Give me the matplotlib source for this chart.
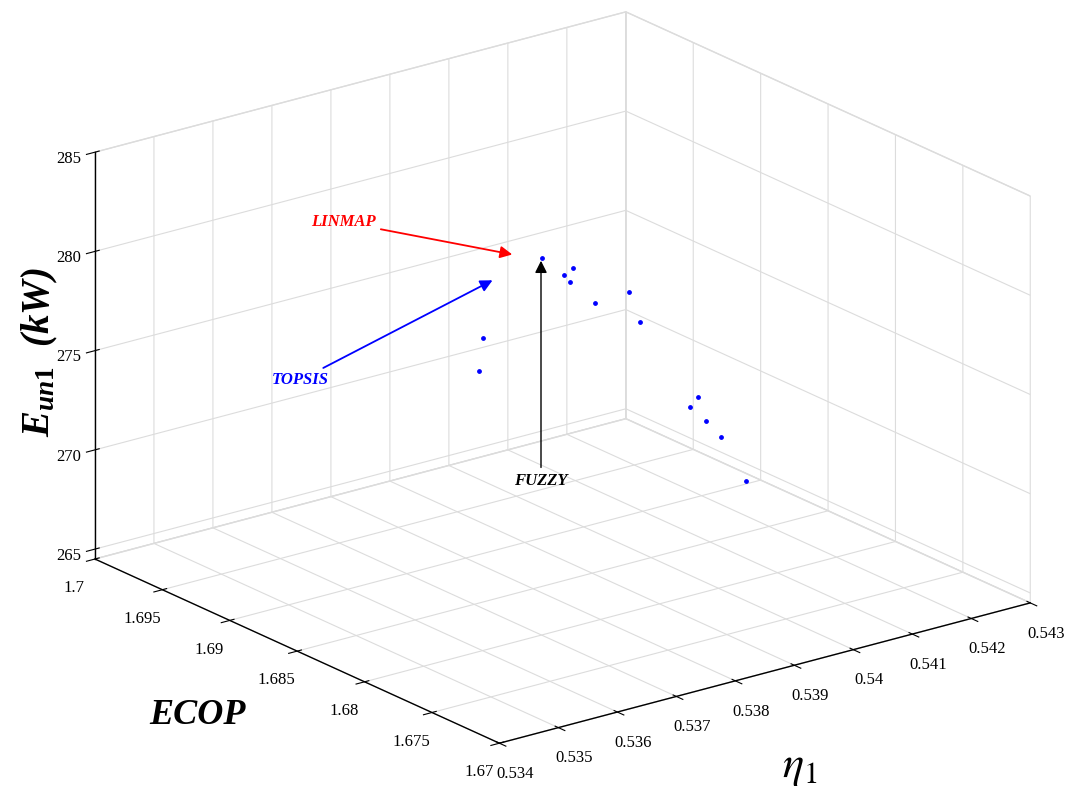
import numpy as np
import matplotlib
matplotlib.use("Agg")
import matplotlib.pyplot as plt

# Pareto front points (eta_1, ECOP, E_un1)
eta1 = [0.53861, 0.53887, 0.53902, 0.53885, 0.53916, 0.53985, 0.53981,
        0.53784, 0.53789, 0.54056, 0.54043, 0.54058, 0.54072, 0.54092]
ecop = [1.6870, 1.6865, 1.6865, 1.6860, 1.6855, 1.6860, 1.6850,
        1.6880, 1.6885, 1.6840, 1.6840, 1.6835, 1.6830, 1.6820]
e_un1 = [280.07, 279.16, 279.39, 278.97, 277.82, 277.68, 276.50,
         276.33, 274.47, 272.48, 272.08, 271.40, 270.64, 268.58]

x_ticks = [0.534, 0.535, 0.536, 0.537, 0.538, 0.539, 0.540, 0.541, 0.542, 0.543]
x_labels = ["0.534", "0.535", "0.536", "0.537", "0.538", "0.539", "0.54", "0.541", "0.542", "0.543"]
y_ticks = [1.67, 1.675, 1.68, 1.685, 1.69, 1.695, 1.70]
y_labels = ["1.67", "1.675", "1.68", "1.685", "1.69", "1.695", "1.7"]
z_ticks = [265, 270, 275, 280, 285]
z_labels = ["265", "270", "275", "280", "285"]

plt.rcParams['font.family'] = ['Liberation Serif', 'DejaVu Serif']
plt.rcParams['grid.color'] = '#dcdcdc'
plt.rcParams['grid.linewidth'] = 0.8
# bold-italic serif for the E_un1 label
plt.rcParams['mathtext.it'] = 'Liberation Serif:italic:bold'
plt.rcParams['mathtext.rm'] = 'Liberation Serif:bold'

fig = plt.figure(figsize=(10.8, 7.94), dpi=100)
ax = fig.add_axes([0.011, 0.011, 1, 1], projection='3d', proj_type='ortho')
ax.view_init(elev=20.3, azim=-127.3)
ax.set_box_aspect((1, 1, 0.65), zoom=1.27)

ax.scatter(eta1, ecop, e_un1, color='blue', s=6, depthshade=False)

ax.set_xlim(0.534, 0.543)
ax.set_ylim(1.67, 1.70)
ax.set_zlim(264.5, 285)
ax.set_xticks(x_ticks)
ax.set_xticklabels(x_labels, fontsize=12)
ax.set_yticks(y_ticks)
ax.set_yticklabels(y_labels, fontsize=12)
ax.set_zticks(z_ticks)
ax.set_zticklabels(z_labels, fontsize=12)
ax.zaxis.set_tick_params(pad=0.4)

for a in (ax.xaxis, ax.yaxis, ax.zaxis):
    a.set_pane_color((1, 1, 1, 1))
    a.pane.set_edgecolor('#dcdcdc')
    a.line.set_color('black')
    a.line.set_linewidth(1.0)

# axis labels
fig.text(198 / 1080, 1 - 715 / 794, 'ECOP', fontsize=26, fontweight='bold',
         style='italic', ha='center', va='center')
fig.text(800 / 1080, 1 - 768 / 794, r'$\eta_1$', fontsize=32,
         ha='center', va='center', math_fontfamily='stix')
fig.text(40 / 1080, 1 - 352 / 794, r'$E_{un1}$  (kW)', fontsize=28,
         fontweight='bold', style='italic', rotation=90, ha='center', va='center',
         math_fontfamily='custom')

# decision-making annotations
ax.annotate('LINMAP', xy=(515 / 1080, 1 - 255 / 794), xytext=(343 / 1080, 1 - 222 / 794),
            xycoords='figure fraction', textcoords='figure fraction',
            color='red', fontsize=12, style='italic', fontweight='bold',
            ha='center', va='center',
            arrowprops=dict(arrowstyle='-|>', color='red', lw=1.3, mutation_scale=18))
ax.annotate('TOPSIS', xy=(495 / 1080, 1 - 279 / 794), xytext=(300 / 1080, 1 - 380 / 794),
            xycoords='figure fraction', textcoords='figure fraction',
            color='blue', fontsize=12, style='italic', fontweight='bold',
            ha='center', va='center',
            arrowprops=dict(arrowstyle='-|>', color='blue', lw=1.3, mutation_scale=18))
ax.annotate('FUZZY', xy=(541 / 1080, 1 - 258 / 794), xytext=(541 / 1080, 1 - 481 / 794),
            xycoords='figure fraction', textcoords='figure fraction',
            color='black', fontsize=12, style='italic', fontweight='bold',
            ha='center', va='center',
            arrowprops=dict(arrowstyle='-|>', color='black', lw=1.0, mutation_scale=18))

fig.savefig('out.png', dpi=100)
